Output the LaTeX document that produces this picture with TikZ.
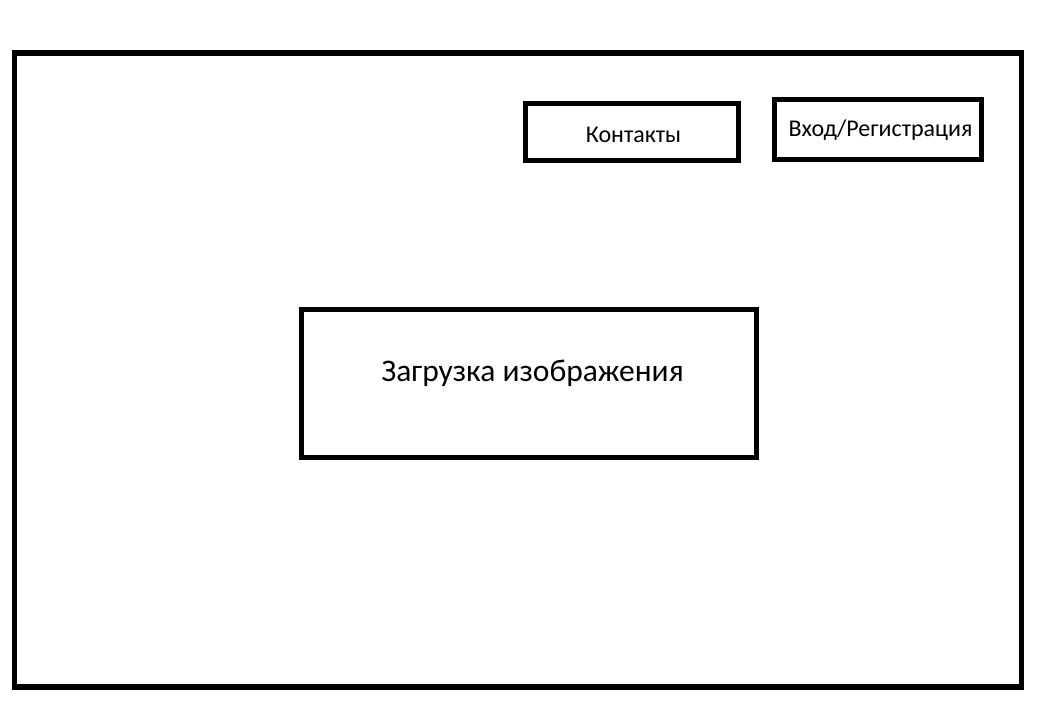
\documentclass[tikz,border=0pt]{standalone}
\usepackage{fontspec}
\setmainfont{Carlito}
\tikzset{
  frame/.style={draw=black, line width=5.5pt},
  box/.style={draw=black, line width=5.5pt, fill=white},
  lbl/.style={inner sep=0pt, font=\fontsize{24}{28}\selectfont},
  biglbl/.style={inner sep=0pt, font=\fontsize{31.5}{36}\selectfont}
}
\begin{document}
\begin{tikzpicture}[x=1pt,y=1pt]
\useasboundingbox (0,0) rectangle (1046,722);
\fill[white] (0,0) rectangle (1046,722);
\draw[frame] (14.5,669) rectangle (1021.5,35);
\draw[box] (525.5,618.5) rectangle (738.5,561.5);
\draw[box] (774.5,622.5) rectangle (981.5,562.5);
\draw[box] (301.5,412.5) rectangle (756.5,264.5);
\node[lbl, anchor=base] (contacts) at (633.5,579) {Контакты};
\node[lbl, anchor=base] (login) at (880.5,585) {Вход/Регистрация};
\node[biglbl, anchor=base] (upload) at (532.5,340) {Загрузка изображения};
\end{tikzpicture}
\end{document}
